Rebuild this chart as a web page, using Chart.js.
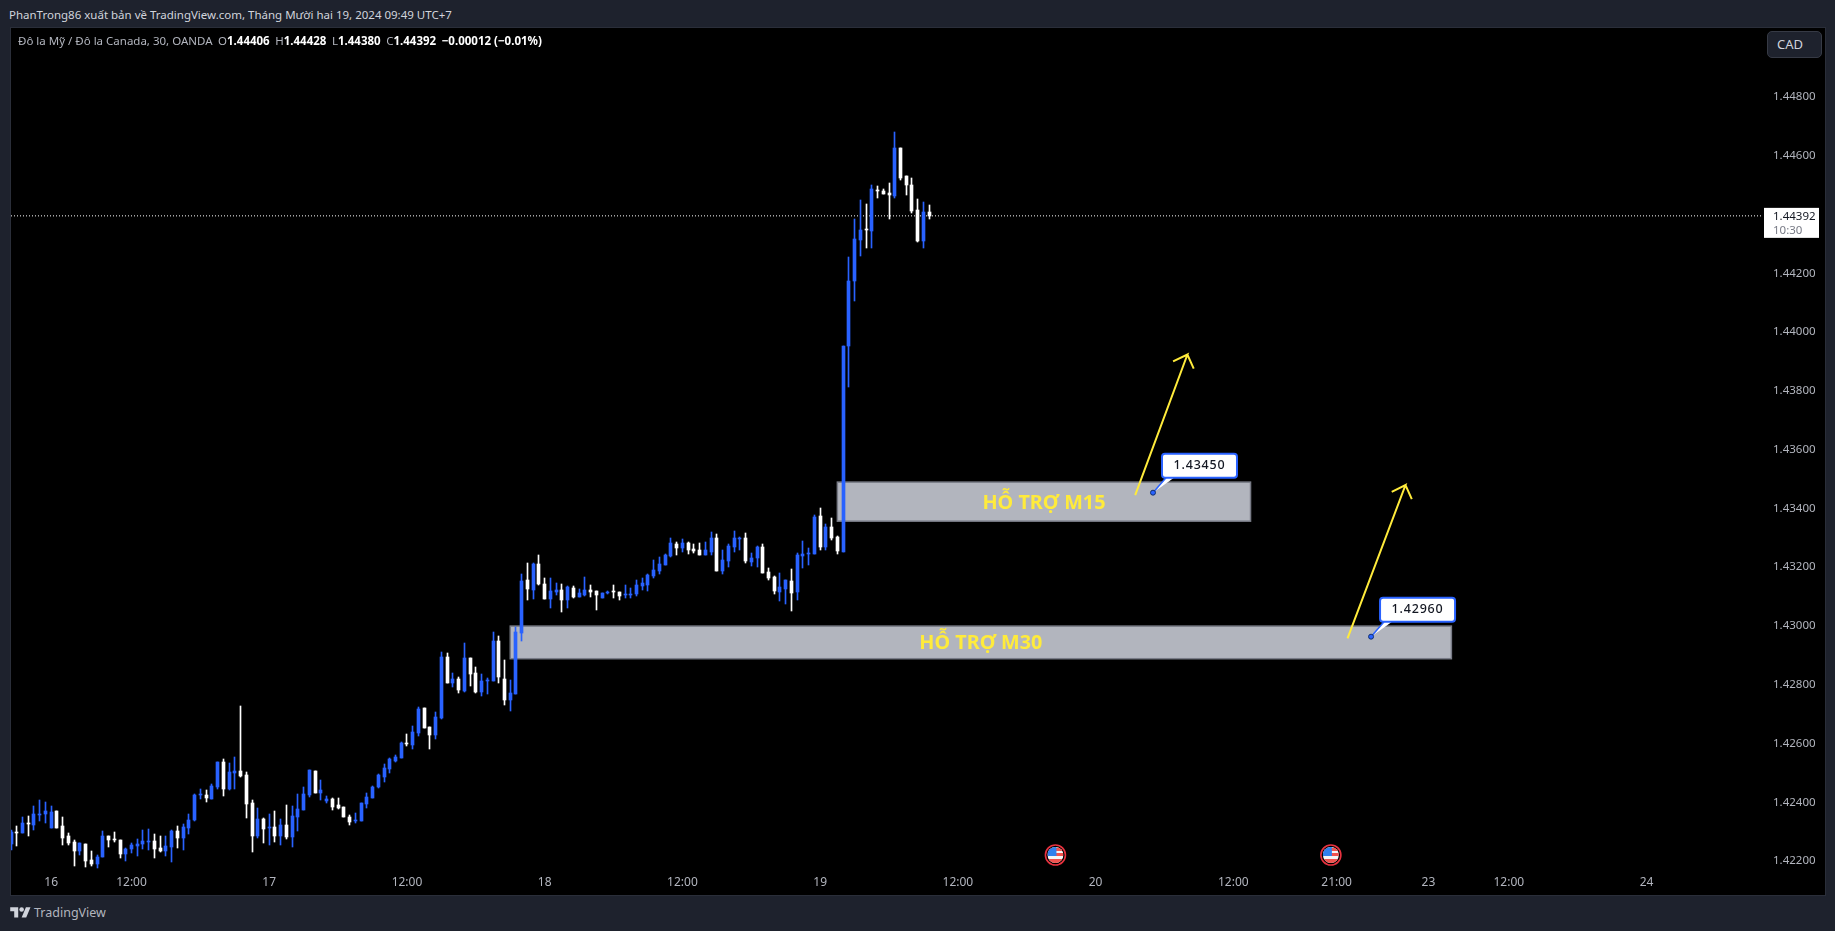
<!DOCTYPE html>
<html>
<head>
<meta charset="utf-8">
<title>USDCAD</title>
<script src="https://cdn.jsdelivr.net/npm/chart.js@4"></script>
<style>
  html, body { margin: 0; height: 100%; overflow: hidden; background: #1e222d; }
  body { font-family: "Noto Sans", sans-serif; font-size: 11.5px; color: #b2b5be; }
  #panel { position: absolute; left: 10px; top: 27px; width: 1814px; height: 867px; border: 1px solid #2a2e39; background: #000; }
  #chart { display: block; }
  #publisher { position: absolute; left: 9px; top: 7px; color: #d1d4dc; white-space: nowrap; }
  #legend { position: absolute; left: 18px; top: 33px; color: #b2b5be; white-space: nowrap; }
  #legend b { color: #fff; }
  #legend span { margin-right: 2.5px; }
  #currency { position: absolute; left: 1767px; top: 31px; width: 53px; height: 25px; box-sizing: content-box; border: 1px solid #363a45; border-radius: 5px; background: #1e222d; color: #d1d4dc; font-size: 13px; line-height: 25px; text-indent: 9px; }
  #brand { position: absolute; left: 10px; top: 904px; display: flex; align-items: center; color: #b2b5be; font-size: 12.5px; }
  #brand svg { margin-right: 3px; }
</style>
</head>
<body>
<div id="publisher">PhanTrong86 xuất bản về TradingView.com, Tháng Mười hai 19, 2024 09:49 UTC+7</div>
<div id="panel"><canvas id="chart" width="1814" height="867"></canvas></div>
<div id="legend"><span>Đô la Mỹ / Đô la Canada, 30, OANDA</span> <span>O<b>1.44406</b></span> <span>H<b>1.44428</b></span> <span>L<b>1.44380</b></span> <span>C<b>1.44392</b></span> <b>−0.00012 (−0.01%)</b></div>
<div id="currency">CAD</div>
<div id="brand">
  <svg width="21" height="16" viewBox="0 0 36 28" fill="#d1d4dc"><path d="M14 22H7V11H0V4h14v18zM28 22h-8l7.5-18h8L28 22z"/><circle cx="20" cy="8" r="4"/></svg>
  TradingView
</div>
<script>
const opens = [
  1.42254, 1.42295, 1.42291, 1.42327, 1.42319, 1.42353, 1.42356, 1.42308, 1.42366, 1.42315,
  1.42281, 1.42261, 1.42230, 1.42254, 1.42200, 1.42186, 1.42210, 1.42281, 1.42271, 1.42268,
  1.42220, 1.42237, 1.42247, 1.42254, 1.42261, 1.42264, 1.42240, 1.42230, 1.42244, 1.42298,
  1.42274, 1.42308, 1.42336, 1.42421, 1.42421, 1.42407, 1.42448, 1.42533, 1.42441, 1.42496,
  1.42502, 1.42489, 1.42393, 1.42281, 1.42339, 1.42308, 1.42312, 1.42281, 1.42319, 1.42278,
  1.42346, 1.42370, 1.42421, 1.42502, 1.42427, 1.42400, 1.42407, 1.42387, 1.42380, 1.42346,
  1.42332, 1.42332, 1.42390, 1.42410, 1.42448, 1.42482, 1.42509, 1.42536, 1.42546, 1.42598,
  1.42591, 1.42632, 1.42717, 1.42652, 1.42625, 1.42683, 1.42890, 1.42802, 1.42815, 1.42774,
  1.42887, 1.42836, 1.42771, 1.42808, 1.42808, 1.42945, 1.42815, 1.42744, 1.42764, 1.42972,
  1.43152, 1.43118, 1.43207, 1.43139, 1.43087, 1.43111, 1.43118, 1.43084, 1.43125, 1.43094,
  1.43101, 1.43118, 1.43115, 1.43091, 1.43108, 1.43115, 1.43111, 1.43101, 1.43101, 1.43105,
  1.43132, 1.43135, 1.43166, 1.43183, 1.43203, 1.43234, 1.43275, 1.43261, 1.43278, 1.43258,
  1.43254, 1.43237, 1.43248, 1.43295, 1.43183, 1.43217, 1.43265, 1.43292, 1.43295, 1.43214,
  1.43227, 1.43265, 1.43179, 1.43163, 1.43111, 1.43122, 1.43149, 1.43111, 1.43234, 1.43241,
  1.43241, 1.43370, 1.43265, 1.43333, 1.43299, 1.43248, 1.43948, 1.44169, 1.44309, 1.44346,
  1.44339, 1.44479, 1.44475, 1.44469, 1.44458, 1.44622, 1.44526, 1.44496, 1.44411, 1.44305,
  1.44406
];
const highs = [
  1.42302, 1.42315, 1.42346, 1.42349, 1.42383, 1.42404, 1.42397, 1.42383, 1.42366, 1.42346,
  1.42291, 1.42268, 1.42257, 1.42254, 1.42230, 1.42217, 1.42298, 1.42281, 1.42295, 1.42268,
  1.42240, 1.42257, 1.42271, 1.42302, 1.42305, 1.42288, 1.42281, 1.42281, 1.42302, 1.42315,
  1.42322, 1.42356, 1.42424, 1.42441, 1.42438, 1.42458, 1.42533, 1.42543, 1.42530, 1.42550,
  1.42723, 1.42499, 1.42404, 1.42376, 1.42342, 1.42356, 1.42366, 1.42339, 1.42387, 1.42383,
  1.42424, 1.42448, 1.42506, 1.42502, 1.42472, 1.42417, 1.42410, 1.42410, 1.42380, 1.42353,
  1.42359, 1.42393, 1.42427, 1.42451, 1.42492, 1.42526, 1.42546, 1.42557, 1.42601, 1.42628,
  1.42655, 1.42720, 1.42717, 1.42652, 1.42703, 1.42907, 1.42904, 1.42836, 1.42822, 1.42938,
  1.42887, 1.42856, 1.42832, 1.42819, 1.42975, 1.42962, 1.42880, 1.42812, 1.42992, 1.43173,
  1.43210, 1.43210, 1.43237, 1.43159, 1.43159, 1.43142, 1.43139, 1.43132, 1.43132, 1.43122,
  1.43163, 1.43135, 1.43115, 1.43108, 1.43115, 1.43135, 1.43111, 1.43135, 1.43125, 1.43152,
  1.43159, 1.43173, 1.43220, 1.43231, 1.43241, 1.43295, 1.43282, 1.43292, 1.43282, 1.43275,
  1.43278, 1.43282, 1.43315, 1.43309, 1.43254, 1.43275, 1.43319, 1.43299, 1.43312, 1.43244,
  1.43268, 1.43275, 1.43193, 1.43166, 1.43176, 1.43152, 1.43190, 1.43244, 1.43285, 1.43261,
  1.43373, 1.43397, 1.43343, 1.43363, 1.43302, 1.43948, 1.44251, 1.44380, 1.44445, 1.44431,
  1.44496, 1.44492, 1.44482, 1.44503, 1.44676, 1.44622, 1.44526, 1.44520, 1.44448, 1.44438,
  1.44428
];
const lows = [
  1.42234, 1.42247, 1.42291, 1.42281, 1.42302, 1.42332, 1.42325, 1.42308, 1.42308, 1.42251,
  1.42251, 1.42179, 1.42217, 1.42176, 1.42179, 1.42172, 1.42210, 1.42244, 1.42261, 1.42206,
  1.42196, 1.42223, 1.42213, 1.42237, 1.42234, 1.42206, 1.42227, 1.42213, 1.42193, 1.42240,
  1.42234, 1.42288, 1.42332, 1.42407, 1.42397, 1.42407, 1.42441, 1.42417, 1.42438, 1.42441,
  1.42482, 1.42342, 1.42227, 1.42274, 1.42257, 1.42251, 1.42261, 1.42251, 1.42271, 1.42244,
  1.42298, 1.42370, 1.42414, 1.42427, 1.42404, 1.42393, 1.42370, 1.42373, 1.42346, 1.42319,
  1.42325, 1.42332, 1.42376, 1.42410, 1.42444, 1.42465, 1.42495, 1.42533, 1.42546, 1.42587,
  1.42577, 1.42621, 1.42649, 1.42577, 1.42611, 1.42679, 1.42802, 1.42788, 1.42768, 1.42771,
  1.42791, 1.42768, 1.42757, 1.42764, 1.42808, 1.42802, 1.42727, 1.42706, 1.42764, 1.42945,
  1.43084, 1.43087, 1.43135, 1.43087, 1.43057, 1.43101, 1.43043, 1.43057, 1.43091, 1.43094,
  1.43098, 1.43094, 1.43050, 1.43091, 1.43105, 1.43091, 1.43084, 1.43091, 1.43091, 1.43098,
  1.43118, 1.43115, 1.43159, 1.43173, 1.43203, 1.43231, 1.43237, 1.43248, 1.43241, 1.43244,
  1.43237, 1.43237, 1.43237, 1.43183, 1.43173, 1.43197, 1.43248, 1.43254, 1.43210, 1.43200,
  1.43197, 1.43176, 1.43152, 1.43105, 1.43081, 1.43071, 1.43047, 1.43084, 1.43193, 1.43203,
  1.43241, 1.43254, 1.43254, 1.43288, 1.43241, 1.43248, 1.43809, 1.44101, 1.44254, 1.44282,
  1.44282, 1.44452, 1.44465, 1.44380, 1.44452, 1.44513, 1.44462, 1.44401, 1.44302, 1.44282,
  1.44380
];
const closes = [
  1.42295, 1.42291, 1.42325, 1.42322, 1.42356, 1.42356, 1.42366, 1.42363, 1.42308, 1.42274,
  1.42257, 1.42230, 1.42257, 1.42196, 1.42186, 1.42210, 1.42281, 1.42268, 1.42268, 1.42220,
  1.42237, 1.42251, 1.42254, 1.42264, 1.42264, 1.42237, 1.42230, 1.42247, 1.42298, 1.42274,
  1.42312, 1.42336, 1.42421, 1.42424, 1.42410, 1.42451, 1.42533, 1.42441, 1.42499, 1.42502,
  1.42485, 1.42390, 1.42281, 1.42339, 1.42305, 1.42312, 1.42281, 1.42319, 1.42278, 1.42349,
  1.42373, 1.42424, 1.42506, 1.42427, 1.42438, 1.42407, 1.42380, 1.42376, 1.42346, 1.42329,
  1.42336, 1.42393, 1.42414, 1.42448, 1.42489, 1.42512, 1.42543, 1.42550, 1.42598, 1.42594,
  1.42635, 1.42713, 1.42649, 1.42625, 1.42686, 1.42890, 1.42802, 1.42815, 1.42778, 1.42887,
  1.42832, 1.42771, 1.42808, 1.42812, 1.42945, 1.42822, 1.42744, 1.42768, 1.42975, 1.43149,
  1.43122, 1.43207, 1.43139, 1.43087, 1.43115, 1.43118, 1.43084, 1.43128, 1.43094, 1.43108,
  1.43118, 1.43111, 1.43101, 1.43108, 1.43111, 1.43111, 1.43098, 1.43105, 1.43105, 1.43135,
  1.43142, 1.43169, 1.43186, 1.43207, 1.43237, 1.43278, 1.43261, 1.43278, 1.43254, 1.43251,
  1.43237, 1.43254, 1.43295, 1.43183, 1.43220, 1.43268, 1.43295, 1.43295, 1.43217, 1.43227,
  1.43265, 1.43176, 1.43159, 1.43115, 1.43128, 1.43152, 1.43108, 1.43237, 1.43241, 1.43244,
  1.43367, 1.43265, 1.43333, 1.43295, 1.43251, 1.43948, 1.44169, 1.44312, 1.44343, 1.44343,
  1.44482, 1.44475, 1.44465, 1.44462, 1.44622, 1.44520, 1.44496, 1.44407, 1.44305, 1.44404,
  1.44392
];

// axis ticks, x positions are bar numbers
const priceTicks = [1.422, 1.424, 1.426, 1.428, 1.43, 1.432, 1.434, 1.436, 1.438, 1.44, 1.442, 1.444, 1.446, 1.448];
const priceLabels = ['1.42200', '1.42400', '1.42600', '1.42800', '1.43000', '1.43200', '1.43400', '1.43600', '1.43800', '1.44000', '1.44200', '1.44400', '1.44600', '1.44800'];
const timeTicks = [7, 21, 45, 69, 93, 117, 141, 165, 189, 213, 231, 247, 261, 285];
const timeLabels = ['16', '12:00', '17', '12:00', '18', '12:00', '19', '12:00', '20', '12:00', '21:00', '23', '12:00', '24'];

const lastPrice = 1.44392;
const lastPriceText = '1.44392';
const countdownText = '10:30';

// drawings on the chart
const zoneNames = ['HỖ TRỢ M15', 'HỖ TRỢ M30'];
const zoneStart = [144, 87];
const zoneEnd = [216, 251];
const zoneTop = [1.43486, 1.42996];
const zoneBottom = [1.43353, 1.42885];
const zoneLabelBar = [180, 169];
const zoneLabelPrice = [1.43412, 1.42937];

const arrowOneBars = [195.9, 205, 202.5, 205, 206.1];
const arrowOnePrices = [1.43442, 1.4392, 1.43897, 1.4392, 1.43872];
const arrowTwoBars = [232.9, 243, 240.6, 243, 244.1];
const arrowTwoPrices = [1.42954, 1.43476, 1.43453, 1.43476, 1.43428];

const calloutBars = [199, 237];
const calloutPrices = [1.4345, 1.4296];
const calloutTexts = ['1.43450', '1.42960'];
const eventBars = [182, 230];

const BLUE = '#2962ff';
const WHITE = '#ffffff';
const YELLOW = '#ffeb3b';
const FONT = '"Noto Sans", sans-serif';

const candleColors = closes.map((c, i) => (c >= opens[i] ? BLUE : WHITE));
const wickData = highs.map((h, i) => ({ x: i, y: [lows[i], h] }));
const bodyData = opens.map((o, i) => ({ x: i, y: [Math.min(o, closes[i]), Math.max(o, closes[i])] }));

function pathData(bars, prices) {
  return bars.map((b, i) => ({ x: b, y: prices[i] }));
}

function lineSet(data, color, width, order, dash) {
  return {
    type: 'line', data, order,
    borderColor: color, borderWidth: width, borderDash: dash || [],
    pointRadius: 0, fill: false, tension: 0
  };
}

// keep candles on whole pixels like the original
const snapPlugin = {
  id: 'snap',
  afterDatasetsUpdate(chart) {
    chart.data.datasets.forEach((ds, d) => {
      if (ds.type === 'line') return;
      chart.getDatasetMeta(d).data.forEach((el) => {
        el.x = Math.floor(el.x) + 0.5;
        el.y = Math.round(el.y);
        el.base = Math.round(el.base);
        if (el.base === el.y) el.base = el.y + 1;
      });
    });
  }
};

function roundBox(ctx, x, y, w, h, r) {
  ctx.beginPath();
  ctx.roundRect(x, y, w, h, r);
}

function drawFlag(ctx, x, y) {
  ctx.save();
  ctx.beginPath();
  ctx.arc(x, y, 10, 0, Math.PI * 2);
  ctx.fillStyle = '#000';
  ctx.fill();
  ctx.lineWidth = 1.6;
  ctx.strokeStyle = '#e8323f';
  ctx.stroke();
  ctx.beginPath();
  ctx.arc(x, y, 8, 0, Math.PI * 2);
  ctx.clip();
  ctx.fillStyle = '#f5f5f5';
  ctx.fillRect(x - 8, y - 8, 16, 16);
  ctx.fillStyle = '#f0524f';
  ctx.fillRect(x - 8, y - 7, 16, 3);
  ctx.fillRect(x - 8, y - 2, 16, 3);
  ctx.fillRect(x - 8, y + 4, 16, 4);
  ctx.fillStyle = '#2f80ed';
  ctx.fillRect(x - 8, y - 8, 9, 9);
  ctx.restore();
}

const drawingsPlugin = {
  id: 'drawings',
  beforeDatasetsDraw(chart) {
    const { ctx, scales: { x, y } } = chart;
    zoneNames.forEach((name, i) => {
      const left = x.getPixelForValue(zoneStart[i]);
      const right = x.getPixelForValue(zoneEnd[i]);
      const top = y.getPixelForValue(zoneTop[i]);
      const bottom = y.getPixelForValue(zoneBottom[i]);
      ctx.fillStyle = '#b2b5be';
      ctx.strokeStyle = '#787b86';
      ctx.lineWidth = 1.5;
      ctx.fillRect(left, top, right - left, bottom - top);
      ctx.strokeRect(left, top, right - left, bottom - top);
      ctx.fillStyle = YELLOW;
      ctx.font = 'bold 19.8px ' + FONT;
      ctx.textAlign = 'center';
      ctx.textBaseline = 'middle';
      ctx.fillText(name, x.getPixelForValue(zoneLabelBar[i]), y.getPixelForValue(zoneLabelPrice[i]));
    });
  },
  afterDatasetsDraw(chart) {
    const { ctx, scales: { x, y } } = chart;
    calloutTexts.forEach((text, i) => {
      const px = x.getPixelForValue(calloutBars[i]);
      const py = y.getPixelForValue(calloutPrices[i]);
      const boxX = px + 9;
      const boxY = py - 39;
      ctx.beginPath();
      ctx.moveTo(px, py);
      ctx.lineTo(px + 13, boxY + 24);
      ctx.lineTo(px + 21, boxY + 24);
      ctx.closePath();
      ctx.fillStyle = '#fff';
      ctx.fill();
      ctx.strokeStyle = BLUE;
      ctx.lineWidth = 1.5;
      ctx.beginPath();
      ctx.moveTo(px, py);
      ctx.lineTo(px + 13, boxY + 24);
      ctx.stroke();
      roundBox(ctx, boxX, boxY, 75, 24, 3);
      ctx.fillStyle = '#fff';
      ctx.fill();
      ctx.lineWidth = 2;
      ctx.stroke();
      ctx.fillStyle = '#131722';
      ctx.font = '500 12.5px ' + FONT;
      ctx.letterSpacing = '0.8px';
      ctx.textAlign = 'center';
      ctx.textBaseline = 'middle';
      ctx.fillText(text, boxX + 37.5, boxY + 12);
      ctx.letterSpacing = '0px';
      ctx.beginPath();
      ctx.arc(px, py, 2.5, 0, Math.PI * 2);
      ctx.fillStyle = BLUE;
      ctx.fill();
      ctx.lineWidth = 1;
      ctx.strokeStyle = '#12306f';
      ctx.stroke();
    });
    eventBars.forEach((bar) => drawFlag(ctx, x.getPixelForValue(bar), chart.chartArea.bottom - 15));
  },
  afterDraw(chart) {
    const { ctx, scales: { y }, chartArea } = chart;
    const py = y.getPixelForValue(lastPrice);
    ctx.fillStyle = '#fff';
    ctx.fillRect(chartArea.right + 1, py - 8, 55, 30);
    ctx.font = '11.5px ' + FONT;
    ctx.textAlign = 'left';
    ctx.textBaseline = 'middle';
    ctx.fillStyle = '#131722';
    ctx.fillText(lastPriceText, chartArea.right + 10, py + 0.5);
    ctx.fillStyle = '#787b86';
    ctx.fillText(countdownText, chartArea.right + 10, py + 14.5);
  }
};

new Chart(document.getElementById('chart'), {
  type: 'bar',
  data: {
    datasets: [
      lineSet(pathData(arrowOneBars, arrowOnePrices), YELLOW, 2, 0),
      lineSet(pathData(arrowTwoBars, arrowTwoPrices), YELLOW, 2, 0),
      { data: bodyData, backgroundColor: candleColors, barThickness: 3, grouped: false, order: 1 },
      { data: wickData, backgroundColor: candleColors, barThickness: 1, grouped: false, order: 2 },
      lineSet(pathData([0, 305.3], [lastPrice, lastPrice]), '#ffffff', 1, 3, [1, 2])
    ]
  },
  options: {
    responsive: false,
    animation: false,
    devicePixelRatio: 1,
    layout: { padding: 0 },
    plugins: { legend: { display: false }, tooltip: { enabled: false } },
    events: [],
    scales: {
      x: {
        type: 'linear',
        min: 0,
        max: 305.3,
        offset: false,
        grid: { display: false, drawTicks: false },
        border: { display: false },
        afterBuildTicks(scale) { scale.ticks = timeTicks.map((v) => ({ value: v })); },
        afterFit(scale) { scale.height = 25; scale.paddingLeft = 0; scale.paddingRight = 0; },
        ticks: {
          color: '#b2b5be',
          font: { family: FONT, size: 12 },
          padding: 5,
          autoSkip: false,
          maxRotation: 0,
          callback: (v) => timeLabels[timeTicks.indexOf(v)]
        }
      },
      y: {
        position: 'right',
        min: 1.42166,
        max: 1.450313,
        beginAtZero: false,
        grid: { display: false, drawTicks: false },
        border: { display: false },
        afterBuildTicks(scale) { scale.ticks = priceTicks.map((v) => ({ value: v })); },
        afterFit(scale) { scale.width = 62; scale.paddingTop = 0; scale.paddingBottom = 0; },
        ticks: {
          color: '#b2b5be',
          font: { family: FONT, size: 11.5 },
          padding: 10,
          labelOffset: 1,
          autoSkip: false,
          callback: (v) => priceLabels[priceTicks.indexOf(v)]
        }
      }
    }
  },
  plugins: [snapPlugin, drawingsPlugin]
});
</script>
</body>
</html>
